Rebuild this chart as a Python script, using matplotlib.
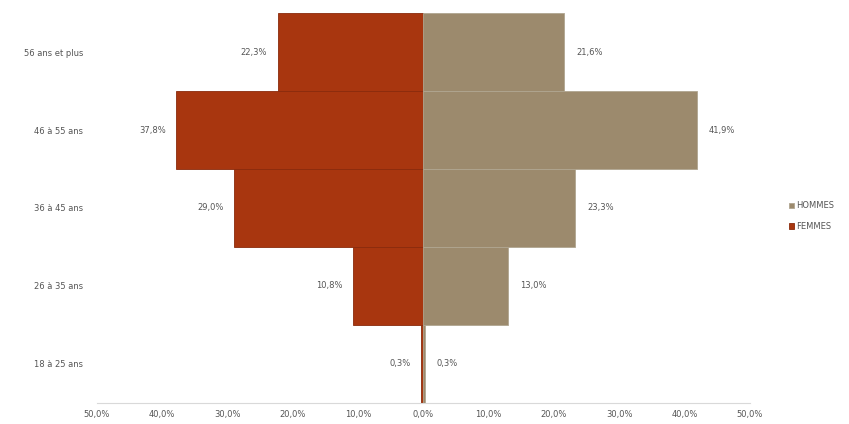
import numpy as np
import matplotlib.pyplot as plt

# tranches d'age (de bas en haut)
categories = ['18 à 25 ans', '26 à 35 ans', '36 à 45 ans', '46 à 55 ans', '56 ans et plus']
femmes = [0.3, 10.8, 29.0, 37.8, 22.3]
hommes = [0.3, 13.0, 23.3, 41.9, 21.6]
xticks = [-50, -40, -30, -20, -10, 0, 10, 20, 30, 40, 50]

colF = '#a8360f'
colH = '#9c8a6d'
txt = '#555555'

fig = plt.figure(figsize=(8.49, 4.24), dpi=100)
ax = fig.add_axes([0.114, 0.05, 0.769, 0.919])

y = np.arange(len(categories))
ax.barh(y, [-v for v in femmes], height=1.0, color=colF, edgecolor='#8a2a0c', linewidth=0.6, label='FEMMES')
ax.barh(y, hommes, height=1.0, color=colH, edgecolor='#b0a590', linewidth=0.6, label='HOMMES')

def fmt(v):
    return ('%.1f%%' % v).replace('.', ',')

for i in range(len(categories)):
    ax.text(-femmes[i] - 1.6, y[i], fmt(femmes[i]), ha='right', va='center', fontsize=6, color=txt)
    ax.text(hommes[i] + 1.8, y[i], fmt(hommes[i]), ha='left', va='center', fontsize=6, color=txt)

ax.set_xlim(-50, 50)
ax.set_ylim(-0.5, len(categories) - 0.5)
ax.set_xticks(xticks)
ax.set_xticklabels([fmt(abs(t)) for t in xticks], fontsize=6, color=txt)
ax.set_yticks(y)
ax.set_yticklabels(categories, fontsize=6, color=txt)
ax.tick_params(axis='y', length=0, pad=10)
ax.tick_params(axis='x', length=0, pad=5)

for s in ['top', 'right', 'left']:
    ax.spines[s].set_visible(False)
ax.spines['bottom'].set_color('#d9d9d9')
ax.spines['bottom'].set_linewidth(0.8)

h, l = ax.get_legend_handles_labels()
leg = fig.legend(h[::-1], l[::-1], loc='center left', bbox_to_anchor=(0.92, 0.49), frameon=False,
                 fontsize=6, handlelength=0.7, handleheight=0.7, handletextpad=0.2, labelspacing=1.4)
for t in leg.get_texts():
    t.set_color(txt)

fig.savefig('out.png', dpi=100)
